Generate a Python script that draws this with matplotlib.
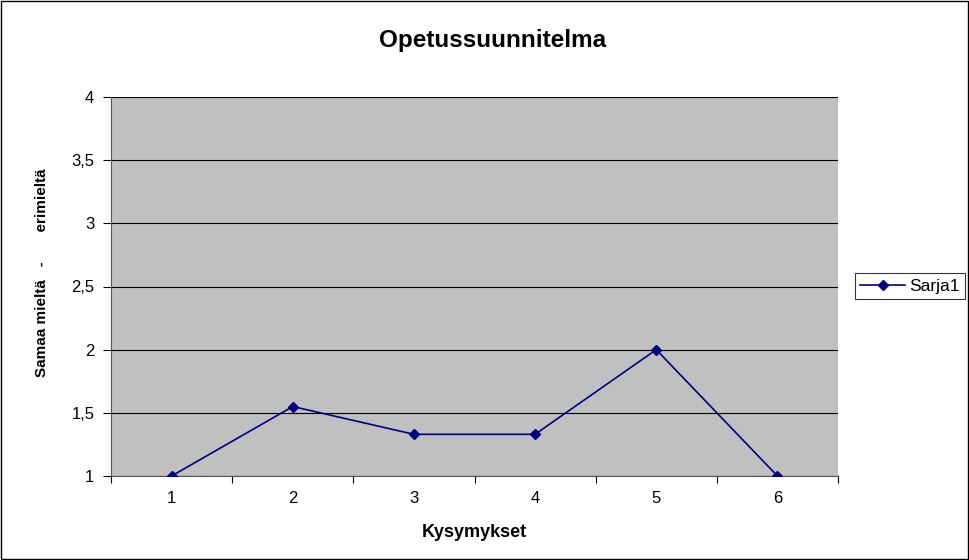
import matplotlib
matplotlib.use("Agg")
import matplotlib.pyplot as plt
from matplotlib.ticker import FixedLocator, FuncFormatter, NullFormatter

categories = ["1", "2", "3", "4", "5", "6"]
values = [1.0, 1.55, 1.33, 1.33, 2.0, 1.0]
y_ticks = [1, 1.5, 2, 2.5, 3, 3.5, 4]

plt.rcParams["font.family"] = ["Liberation Sans", "DejaVu Sans"]

fig = plt.figure(figsize=(9.69, 5.6), dpi=100)
ax = fig.add_axes([111 / 969, 84 / 560, 727 / 969, 379 / 560])
ax.set_facecolor("#c0c0c0")

x = list(range(1, len(categories) + 1))
ax.plot(x, values, color="#000080", linewidth=1.2, marker="D", markersize=5,
        label="Sarja1", zorder=3)

ax.set_xlim(0.5, len(categories) + 0.5)
ax.set_ylim(1, 4)
ax.set_yticks(y_ticks)
ax.yaxis.set_major_formatter(FuncFormatter(lambda v, _: f"{v:g}".replace(".", ",")))
ax.grid(axis="y", color="black", linewidth=0.8)
ax.set_axisbelow(True)

# category labels in centre, tick marks on boundaries
ax.xaxis.set_major_locator(FixedLocator([i + 0.5 for i in range(len(categories) + 1)]))
ax.xaxis.set_major_formatter(NullFormatter())
ax.xaxis.set_minor_locator(FixedLocator(x))
ax.set_xticklabels(categories, minor=True)
ax.tick_params(axis="x", which="minor", length=0, pad=11, labelsize=12)
ax.tick_params(axis="x", which="major", length=5, direction="out")
ax.tick_params(axis="y", length=6, direction="out", labelsize=12, pad=6)

for side in ["top", "right"]:
    ax.spines[side].set_visible(False)
ax.spines["left"].set_color("#555555")
ax.spines["bottom"].set_color("#555555")

fig.text(493 / 969, 1 - 40 / 560, "Opetussuunnitelma", fontsize=17.5,
         fontweight="bold", ha="center", va="center")
ax.set_xlabel("Kysymykset", fontsize=13, fontweight="bold", labelpad=13)
fig.text(42 / 969, 1 - 273 / 560, "Samaa mieltä   -       erimieltä", fontsize=11,
         fontweight="bold", rotation=90, ha="center", va="center")

leg = fig.legend(loc="center left", bbox_to_anchor=(855 / 969, 1 - 286 / 560),
                 fontsize=12.5, frameon=True, fancybox=False, edgecolor="black",
                 handlelength=2.6, borderpad=0.3, handletextpad=0.2,
                 borderaxespad=0)
leg.get_frame().set_linewidth(0.8)

fig.patches.append(plt.Rectangle((0.001, 0.001), 0.998, 0.997, transform=fig.transFigure,
                                 fill=False, edgecolor="black", linewidth=1))

fig.savefig("out.png", dpi=100)
